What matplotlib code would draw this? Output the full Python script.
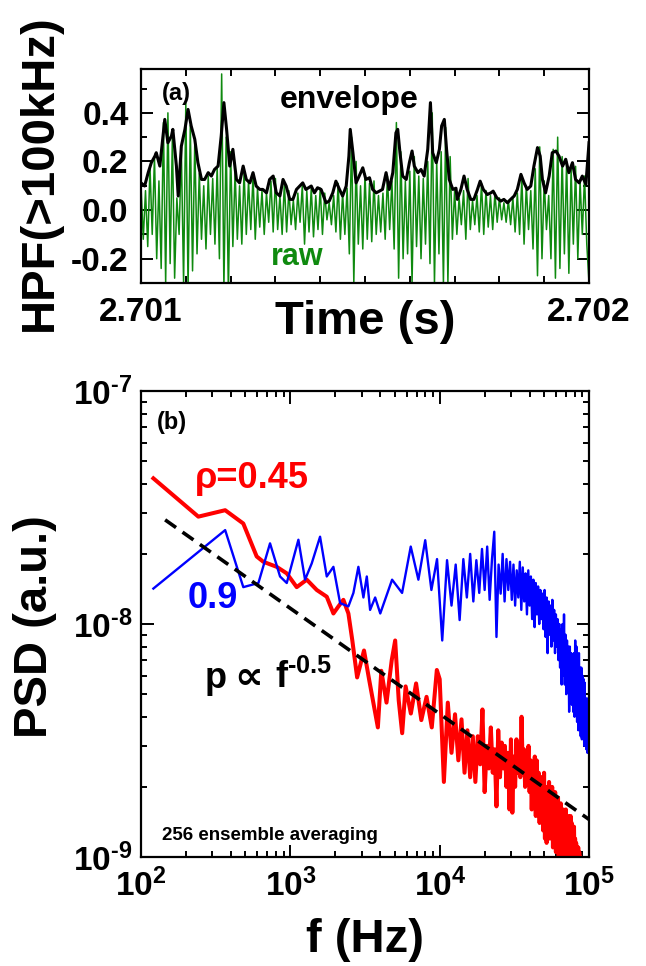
import numpy as np
import matplotlib
matplotlib.use('Agg')
import matplotlib.pyplot as plt
from matplotlib.ticker import MultipleLocator, LogLocator, NullFormatter

plt.rcParams['font.family'] = ['Liberation Sans', 'DejaVu Sans']
plt.rcParams['font.weight'] = 'bold'
plt.rcParams['mathtext.fontset'] = 'custom'
plt.rcParams['mathtext.rm'] = 'Liberation Sans:bold'
plt.rcParams['mathtext.bf'] = 'Liberation Sans:bold'
plt.rcParams['mathtext.it'] = 'Liberation Sans:bold:italic'
plt.rcParams['mathtext.sf'] = 'Liberation Sans:bold'

# (a) high-pass filtered signal, sampled every 5 us after 2.701 s
raw_v = [0.10, -0.12, 0.08, -0.15, 0.18, -0.10, 0.22, -0.20, 0.12, -0.24,
         0.36, -0.30, 0.40, -0.22, 0.30, -0.28, 0.05, -0.10, 0.25, -0.30,
         0.44, -0.32, 0.35, -0.25, 0.28, -0.18, 0.15, -0.12, 0.10, -0.16,
         0.14, -0.10, 0.13, -0.14, 0.18, -0.20, 0.56, -0.32, 0.30, -0.34,
         0.24, -0.15, 0.16, -0.12, 0.10, -0.14, 0.16, -0.10, 0.12, -0.08,
         0.14, -0.12, 0.09, -0.07, 0.08, -0.10, 0.07, -0.05, 0.12, -0.09,
         0.13, -0.08, 0.06, -0.10, 0.11, -0.09, 0.08, -0.06, 0.04, -0.08,
         0.07, -0.05, 0.10, -0.14, 0.08, -0.09, 0.09, -0.11, 0.06, -0.08,
         0.09, -0.10, 0.07, -0.04, 0.03, -0.06, 0.06, -0.09, 0.11, -0.12,
         0.07, -0.10, 0.09, -0.18, 0.30, -0.30, 0.20, -0.14, 0.10, -0.16,
         0.15, -0.12, 0.11, -0.13, 0.12, -0.10, 0.06, -0.09, 0.07, -0.12,
         0.14, -0.08, 0.12, -0.16, 0.36, -0.28, 0.24, -0.20, 0.12, -0.18,
         0.16, -0.30, 0.22, -0.15, 0.14, -0.20, 0.13, -0.14, 0.20, -0.22,
         0.40, -0.30, 0.20, -0.18, 0.24, -0.30, 0.34, -0.30, 0.22, -0.12,
         0.08, -0.10, 0.05, -0.06, 0.08, -0.12, 0.13, -0.08, 0.04, -0.06,
         0.06, -0.09, 0.11, -0.10, 0.08, -0.07, 0.06, -0.08, 0.07, -0.05,
         0.05, -0.04, 0.03, -0.05, 0.04, -0.06, 0.05, -0.09, 0.07, -0.10,
         0.13, -0.14, 0.10, -0.08, 0.08, -0.16, 0.17, -0.27, 0.26, -0.20,
         0.12, -0.08, 0.06, -0.20, 0.25, -0.28, 0.30, -0.24, 0.22, -0.18,
         0.20, -0.26, 0.17, -0.14, 0.18, -0.20, 0.12, -0.10, 0.14, -0.14,
         -0.30]

env_t = [0, 8, 16, 23, 31, 34, 42, 53, 60, 68,
         71, 79, 83, 90, 98, 105, 112, 120, 127, 135,
         142, 150, 157, 164, 172, 179, 185, 191, 198, 205,
         213, 220, 228, 235, 243, 250, 257, 265, 272, 280,
         287, 295, 302, 310, 317, 324, 332, 339, 347, 361,
         368, 380, 387, 394, 402, 413, 420, 428, 435, 443,
         450, 458, 464, 467, 473, 480, 487, 495, 502, 510,
         517, 525, 532, 539, 547, 554, 562, 569, 573, 578,
         584, 592, 599, 605, 610, 618, 625, 632, 640, 646,
         651, 659, 666, 671, 677, 682, 688, 696, 703, 706,
         714, 721, 728, 736, 743, 751, 757, 764, 773, 781,
         786, 794, 803, 810, 818, 825, 833, 840, 848, 855,
         862, 870, 877, 885, 891, 896, 903, 911, 918, 926,
         933, 941, 948, 955, 963, 970, 978, 985, 993, 1000]
env_v = [0.112, 0.099, 0.154, 0.195, 0.222, 0.236, 0.181, 0.373, 0.277, 0.305,
         0.332, 0.181, 0.058, 0.263, 0.332, 0.414, 0.346, 0.291, 0.195, 0.126,
         0.126, 0.154, 0.140, 0.167, 0.181, 0.305, 0.442, 0.332, 0.181, 0.250,
         0.126, 0.112, 0.181, 0.126, 0.112, 0.154, 0.099, 0.085, 0.085, 0.071,
         0.126, 0.140, 0.071, 0.058, 0.126, 0.099, 0.044, 0.044, 0.085, 0.112,
         0.085, 0.099, 0.071, 0.092, 0.085, 0.030, 0.037, 0.071, 0.119, 0.085,
         0.058, 0.099, 0.222, 0.332, 0.236, 0.112, 0.140, 0.174, 0.126, 0.133,
         0.085, 0.071, 0.078, 0.085, 0.154, 0.085, 0.154, 0.318, 0.332, 0.236,
         0.140, 0.126, 0.195, 0.243, 0.181, 0.154, 0.167, 0.140, 0.250, 0.442,
         0.236, 0.195, 0.250, 0.346, 0.373, 0.250, 0.126, 0.085, 0.090, 0.044,
         0.085, 0.140, 0.085, 0.044, 0.044, 0.085, 0.119, 0.085, 0.064, 0.071,
         0.078, 0.051, 0.037, 0.044, 0.030, 0.044, 0.058, 0.085, 0.147, 0.112,
         0.085, 0.099, 0.181, 0.257, 0.222, 0.126, 0.071, 0.140, 0.236, 0.243,
         0.222, 0.181, 0.209, 0.154, 0.195, 0.126, 0.112, 0.140, 0.106, 0.277]

# (b) power spectra, PSD in units of 1e-9
# rho = 0.45, low-frequency part
red_f = [121, 242, 366, 484, 595, 659, 810, 946, 1103, 1288,
         1503, 1753, 1942, 2098, 2265, 2447, 2600, 2800, 3113, 3373,
         3855, 4065, 4404, 4774, 5034, 5317, 5608, 5915, 6411, 6950,
         7534, 8166, 8851, 9570]
red_p = [42.2, 28.9, 30.8, 27.0, 19.5, 18.5, 17.6, 16.5, 14.4, 15.5,
         14.0, 13.1, 11.1, 11.9, 12.7, 11.1, 8.5, 5.9, 7.7, 5.75,
         3.6, 6.3, 4.6, 7.0, 8.5, 4.7, 3.4, 5.4, 4.13, 5.56,
         3.87, 4.87, 3.6, 6.35]
# rho = 0.45, 10 kHz .. 90 kHz in equal frequency steps
red_hf_p = [5.8, 2.1, 4.6, 2.8, 4.1, 2.6, 3.9, 2.3, 3.5, 2.2,
            3.3, 2.1, 3.3, 2.5, 4.3, 1.9, 3.0, 2.4, 3.6, 2.3,
            2.9, 1.65, 3.5, 2.2, 3.1, 2.4, 3.0, 2.0, 2.8, 1.6,
            3.2, 1.55, 2.7, 2.0, 3.2, 2.3, 3.0, 2.2, 4.0, 2.3,
            2.9, 2.0, 2.8, 2.2, 3.0, 1.9, 2.6, 1.6, 2.4, 2.0,
            2.7, 1.5, 2.6, 1.7, 2.3, 1.4, 2.2, 1.6, 2.2, 1.3,
            2.3, 1.2, 2.0, 1.15, 1.9, 1.3, 2.1, 1.2, 2.0, 1.4,
            2.0, 1.1, 1.8, 1.2, 1.9, 1.05, 1.7, 1.1, 1.8, 1.0,
            1.6, 1.2, 1.7, 0.98, 1.5, 1.1, 1.6, 1.0, 1.5, 1.2,
            1.6, 0.95, 1.4, 1.1, 1.5, 0.95, 1.4, 1.0, 1.5, 1.1,
            1.4, 0.92, 1.3, 0.95, 1.35, 0.9, 1.2, 0.9, 1.15, 0.88,
            1.1, 0.9, 1.1, 0.85, 1.05, 0.88, 1.0, 0.85, 0.95, 0.85,
            0.9]

# rho = 0.9, low-frequency part
blue_f = [121, 366, 484, 611, 731, 853, 946, 1132, 1254, 1390,
          1581, 1753, 1942, 2153, 2447, 2644, 2855, 3085, 3250, 3420,
          3697]
blue_p = [14.2, 25.3, 14.4, 15.0, 22.2, 16.0, 15.0, 23.0, 15.5, 18.2,
          23.7, 16.0, 17.6, 12.3, 11.9, 13.6, 17.6, 13.0, 16.0, 11.5,
          13.0]
# rho = 0.9, 4 kHz .. 100 kHz in equal frequency steps
blue_hf_p = [11.1, 15.5, 13.6, 21.5, 15.5, 22.9, 14.0, 19.0, 8.5, 18.8,
             12.0, 18.0, 10.4, 19.0, 13.0, 20.0, 12.5, 18.8, 13.6, 21.0,
             14.0, 21.5, 12.7, 19.0, 24.9, 8.8, 18.0, 13.5, 20.0, 12.5,
             19.0, 14.0, 18.5, 12.7, 18.0, 12.0, 17.0, 13.0, 18.5, 11.5,
             17.5, 12.5, 16.5, 11.0, 17.0, 12.0, 16.0, 10.5, 15.5, 9.7,
             15.0, 11.0, 14.5, 10.0, 14.0, 10.5, 13.5, 9.5, 14.0, 8.8,
             13.0, 7.5, 12.5, 9.0, 12.0, 8.0, 12.7, 8.5, 11.5, 7.5,
             11.0, 8.0, 10.5, 7.0, 10.0, 6.5, 9.5, 5.5, 10.0, 6.0,
             11.0, 5.5, 9.0, 5.0, 8.5, 5.5, 8.0, 4.2, 8.0, 4.8,
             7.5, 4.5, 7.0, 4.2, 7.5, 4.0, 8.5, 4.5, 8.0, 3.8,
             7.0, 3.5, 7.5, 3.6, 6.5, 3.3, 6.5, 3.2, 6.0, 3.4,
             5.8, 3.0, 5.6, 3.1, 4.6, 2.9, 4.8, 2.8, 4.4, 2.9,
             4.6]

# power law guide line (two end points)
fit_f = [145, 100000]
fit_p = [28.0, 1.45]

fig = plt.figure(figsize=(6.46, 9.66), dpi=100)
ax1 = fig.add_axes([0.2183, 0.707, 0.6935, 0.2215])
ax2 = fig.add_axes([0.2183, 0.1128, 0.6935, 0.4824])

# ---- panel (a)
raw_x = 2.701 + np.linspace(0, 1000, len(raw_v)) * 1e-6
env_x = 2.701 + np.array(env_t) * 1e-6
ax1.plot(raw_x, raw_v, color='#0f8a0f', lw=1.1)
ax1.plot(env_x, env_v, color='black', lw=2.2)
ax1.set_xlim(2.701, 2.702)
ax1.set_ylim(-0.3, 0.58)
ax1.set_xticks([2.701, 2.702], labels=['2.701', '2.702'])
ax1.xaxis.set_minor_locator(MultipleLocator(0.0001))
ax1.set_yticks([-0.2, 0.0, 0.2, 0.4], labels=['-0.2', '0.0', '0.2', '0.4'])
ax1.yaxis.set_minor_locator(MultipleLocator(0.1))
ax1.tick_params(which='both', direction='in', top=True, right=True, width=1.4, labelsize=24)
ax1.tick_params(axis='y', which='major', length=8.5, pad=9)
ax1.tick_params(axis='y', which='minor', length=4.5)
ax1.tick_params(axis='x', which='both', length=5, pad=10)
ax1.text(0.080, 0.884, '(a)', transform=ax1.transAxes, fontsize=17, ha='center', va='center')
ax1.text(0.464, 0.856, 'envelope', transform=ax1.transAxes, fontsize=23, ha='center', va='center')
ax1.text(0.348, 0.121, 'raw', transform=ax1.transAxes, fontsize=22, ha='center', va='center', color='#0f8a0f')

# ---- panel (b)
red_all_f = np.concatenate([red_f, np.linspace(10000, 90000, len(red_hf_p))])
red_all_p = np.concatenate([red_p, red_hf_p]) * 1e-9
blue_all_f = np.concatenate([blue_f, np.linspace(4000, 100000, len(blue_hf_p))])
blue_all_p = np.concatenate([blue_p, blue_hf_p]) * 1e-9
ax2.loglog(red_all_f, red_all_p, color='#ff0000', lw=2.9)
ax2.loglog(blue_all_f, blue_all_p, color='#0000ff', lw=1.7)
ax2.loglog(fit_f, np.array(fit_p) * 1e-9, color='black', lw=2.6, ls=(0, (3.7, 2.2)))
ax2.set_xlim(100, 1e5)
ax2.set_ylim(1e-9, 1e-7)
ax2.set_xticks([1e2, 1e3, 1e4, 1e5], labels=['10$^{2}$', '10$^{3}$', '10$^{4}$', '10$^{5}$'])
ax2.set_yticks([1e-9, 1e-8, 1e-7], labels=[r'10$^{\text{-9}}$', r'10$^{\text{-8}}$', r'10$^{\text{-7}}$'])
ax2.xaxis.set_minor_locator(LogLocator(base=10, subs=np.arange(2, 10)))
ax2.yaxis.set_minor_locator(LogLocator(base=10, subs=np.arange(2, 10)))
ax2.xaxis.set_minor_formatter(NullFormatter())
ax2.yaxis.set_minor_formatter(NullFormatter())
ax2.tick_params(which='both', direction='in', top=True, right=True, width=1.4, labelsize=24)
ax2.tick_params(which='major', length=9)
ax2.tick_params(which='minor', length=4.5)
ax2.tick_params(axis='x', pad=8)
ax2.tick_params(axis='y', pad=6)
ax2.text(0.069, 0.933, '(b)', transform=ax2.transAxes, fontsize=17, ha='center', va='center')
ax2.text(0.248, 0.813, 'ρ=0.45', transform=ax2.transAxes, fontsize=26, ha='center', va='center', color='#ff0000')
ax2.text(0.161, 0.554, '0.9', transform=ax2.transAxes, fontsize=26, ha='center', va='center', color='#0000ff')
# p ∝ f^-0.5 label, pieces placed side by side
ax2.text(0.141, 0.363, 'p', transform=ax2.transAxes, fontsize=26, ha='left', va='baseline')
ax2.text(0.240, 0.384, '∝', transform=ax2.transAxes, fontsize=29, ha='center', va='center',
         family='DejaVu Sans', fontweight='bold')
ax2.text(0.300, 0.363, r'f$^{\text{-0.5}}$', transform=ax2.transAxes, fontsize=26, ha='left', va='baseline')
ax2.text(0.047, 0.047, '256 ensemble averaging', transform=ax2.transAxes, fontsize=13.5, ha='left', va='center')

for ax in (ax1, ax2):
    for s in ax.spines.values():
        s.set_linewidth(1.6)

fig.text(40 / 646, 1 - 173 / 966, 'HPF(>100kHz)', rotation=90, fontsize=34, ha='center', va='center')
fig.text(365 / 646, 1 - 322 / 966, 'Time (s)', fontsize=34, ha='center', va='center')
fig.text(35 / 646, 1 - 627 / 966, 'PSD (a.u.)', rotation=90, fontsize=34, ha='center', va='center')
fig.text(365 / 646, 1 - 940 / 966, 'f (Hz)', fontsize=34, ha='center', va='center')

fig.savefig('out.png', dpi=100, facecolor='white')
